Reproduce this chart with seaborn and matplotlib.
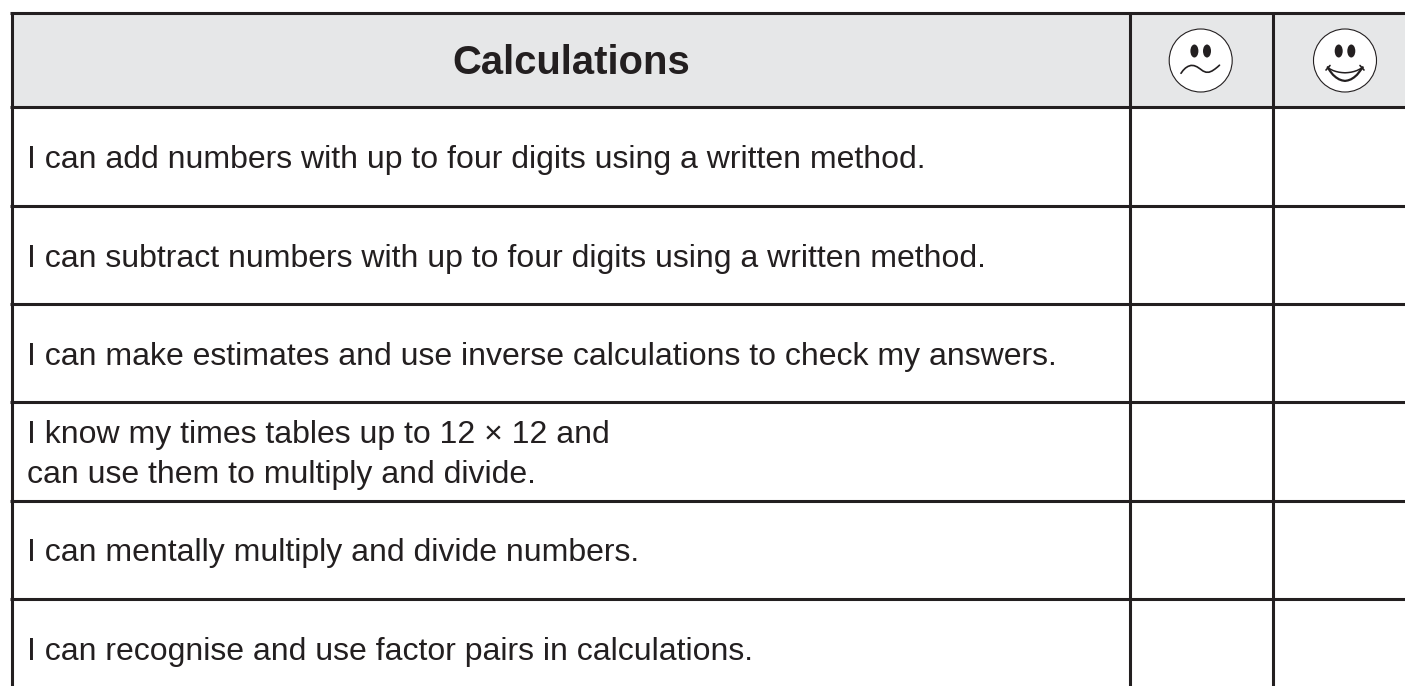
import numpy as np
import pandas as pd
import matplotlib.pyplot as plt
from matplotlib.patches import Circle, Ellipse, Rectangle
import seaborn as sns

# table text
title = 'Calculations'
rows = ['I can add numbers with up to four digits using a written method.',
        'I can subtract numbers with up to four digits using a written method.',
        'I can make estimates and use inverse calculations to check my answers.',
        'I know my times tables up to 12 × 12 and\ncan use them to multiply and divide.',
        'I can mentally multiply and divide numbers.',
        'I can recognise and use factor pairs in calculations.']
baselines = [168, 267, 365, 443, 561.5, 660]

# rules of the table, in pixels of the page
h_rules = [13, 107, 206, 304, 402, 501, 599]
v_rules = [11.5, 1130, 1273]

# faces
face_x = [1200.7, 1345]
face_y = 60.5
sad_mouth_x = [1181, 1183, 1185.5, 1188, 1191, 1194, 1197, 1200, 1203, 1206, 1209, 1212, 1215, 1217.5, 1219.5]
sad_mouth_y = [73.3, 70.5, 68, 66.4, 65.4, 65.6, 66.8, 68.8, 71, 72.2, 72.2, 71, 69, 67, 65.2]
happy_mouth_x = [1327.7, 1330, 1333, 1336, 1339, 1342, 1345, 1348, 1351, 1354, 1357, 1360, 1362.7]
happy_top_y = [67.3, 69, 70.5, 71.5, 72.2, 72.6, 72.8, 72.6, 72.2, 71.5, 70.5, 69, 67.3]
happy_low_y = [67.3, 71, 74.8, 77.4, 79.3, 80.4, 80.9, 80.4, 79.3, 77.4, 74.8, 71, 67.3]

ink = '#231f20'
grey = '#e6e7e8'

sns.set_theme(style='white')
plt.rcParams['font.family'] = ['Liberation Sans', 'DejaVu Sans']

fig = plt.figure(figsize=(14.05, 6.86), dpi=100)
ax = fig.add_axes([0, 0, 1, 1])
ax.set_xlim(0, 1405)
ax.set_ylim(686, 0)
ax.axis('off')

# header band
ax.add_patch(Rectangle((v_rules[0], h_rules[0]), 1405 - v_rules[0], h_rules[1] - h_rules[0],
                       facecolor=grey, edgecolor='none', zorder=0))

# horizontal and vertical rules
for y in h_rules:
    d = pd.DataFrame({'x': [v_rules[0] - 1.5, 1405], 'y': [y, y]})
    sns.lineplot(data=d, x='x', y='y', color=ink, lw=2.2, estimator=None, sort=False,
                 solid_capstyle='butt', ax=ax)
for x in v_rules:
    d = pd.DataFrame({'x': [x, x], 'y': [h_rules[0], 686]})
    sns.lineplot(data=d, x='x', y='y', color=ink, lw=2.2, estimator=None, sort=False,
                 solid_capstyle='butt', ax=ax)

# faces
for x in face_x:
    ax.add_patch(Circle((x, face_y), 31.5, facecolor='white', edgecolor=ink, lw=0.8, zorder=3))
    ax.add_patch(Ellipse((x - 6.3, 51), 8, 13, facecolor=ink, edgecolor='none', zorder=4))
    ax.add_patch(Ellipse((x + 6.3, 51), 8, 13, facecolor=ink, edgecolor='none', zorder=4))

sns.lineplot(x=sad_mouth_x, y=sad_mouth_y, color=ink, lw=1.2, estimator=None, sort=False, ax=ax, zorder=4)
sns.lineplot(x=happy_mouth_x, y=happy_top_y, color=ink, lw=1.1, estimator=None, sort=False, ax=ax, zorder=4)
sns.lineplot(x=happy_mouth_x, y=happy_low_y, color=ink, lw=1.6, estimator=None, sort=False, ax=ax, zorder=4)
# little ticks at the ends of the smile
sns.lineplot(x=[1326, 1330], y=[70, 65.5], color=ink, lw=1.2, estimator=None, sort=False, ax=ax, zorder=4)
sns.lineplot(x=[1364, 1360], y=[70, 65.5], color=ink, lw=1.2, estimator=None, sort=False, ax=ax, zorder=4)
ax.set_xlabel('')
ax.set_ylabel('')

# texts
ax.text(571, 74, title, fontsize=28.8, fontweight='bold', color=ink, ha='center', va='baseline')
for txt, y in zip(rows, baselines):
    lines = txt.split('\n')
    for i, line in enumerate(lines):
        ax.text(27, y + i * 40, line, fontsize=23, color=ink, ha='left', va='baseline')

fig.savefig('out.png', dpi=100)
